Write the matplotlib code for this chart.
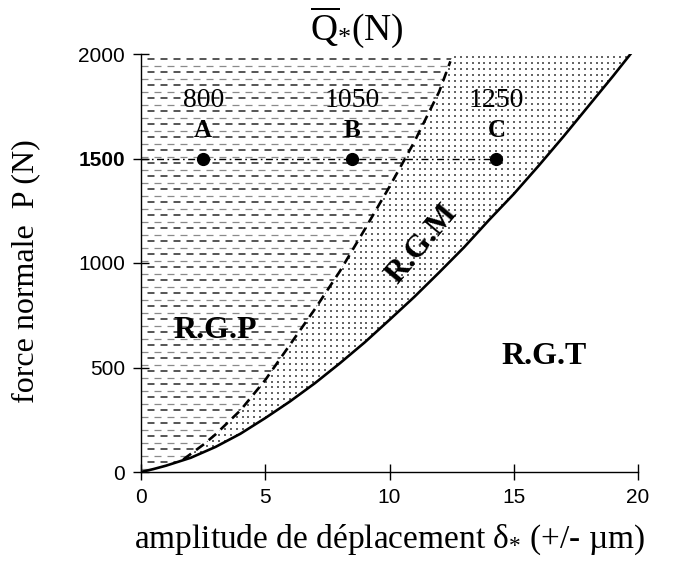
import numpy as np
import matplotlib
matplotlib.use('Agg')
import matplotlib.pyplot as plt
from matplotlib.patches import Polygon

# ---------------- data ----------------
solid_x = [0, 0.5, 1, 2, 3, 4, 5, 6, 7, 8, 9, 10, 11, 12, 13, 14, 15, 16, 17, 18, 19, 19.7]
solid_p = [0, 14, 30, 68, 120, 183, 258, 338, 425, 520, 620, 728, 838, 955, 1075, 1205, 1330,
           1465, 1605, 1750, 1895, 2000]
dash_x = [1.7, 2.5, 3.0, 4.0, 5.0, 6.0, 7.0, 8.0, 9.0, 10.0, 11.0, 12.0, 12.45]
dash_p = [60, 130, 180, 295, 440, 610, 780, 960, 1160, 1365, 1580, 1820, 1965]
point_labels = ['A', 'B', 'C']
point_x = [2.5, 8.5, 14.3]
point_p = [1500, 1500, 1500]
q_labels = ['800', '1050', '1250']
region_labels = ['R.G.P', 'R.G.M', 'R.G.T']
region_x = [3.0, 11.3, 16.2]
region_p = [675, 1090, 555]
region_rot = [0, 50, 0]
xticks = [0, 5, 10, 15, 20]
yticks = [0, 500, 1000, 1500, 2000]
x_max = 20
p_max = 2000

plt.rcParams['lines.scale_dashes'] = False
plt.rcParams['mathtext.fontset'] = 'custom'
plt.rcParams['mathtext.rm'] = 'Liberation Serif'
plt.rcParams['mathtext.it'] = 'Liberation Serif:italic'
plt.rcParams['mathtext.bf'] = 'Liberation Serif:bold'

W, H = 674, 564
fig = plt.figure(figsize=(W / 100, H / 100), dpi=100)
L, R, B, T = 141, 638, 472, 54
ax = fig.add_axes([L / W, 1 - B / H, (R - L) / W, (B - T) / H])
ax.set_xlim(0, x_max)
ax.set_ylim(0, p_max)

ppx = (R - L) / x_max
ppy = (B - T) / p_max

# ---------------- region polygons ----------------
x_top = dash_x[-1] + (p_max - dash_p[-1]) * (dash_x[-1] - dash_x[-2]) / (dash_p[-1] - dash_p[-2])
low_solid = [(sx, sp) for sx, sp in zip(solid_x, solid_p) if sx < dash_x[0]]
high_solid = [(sx, sp) for sx, sp in zip(solid_x, solid_p) if sx > dash_x[0]]
rgp = [(0, p_max), (x_top, p_max)] + list(zip(dash_x[::-1], dash_p[::-1])) + low_solid[::-1]
rgm = list(zip(dash_x, dash_p)) + [(x_top, p_max)] + high_solid[::-1]

rgp_patch = Polygon(rgp, closed=True, facecolor='none', edgecolor='none', transform=ax.transData)
rgm_patch = Polygon(rgm, closed=True, facecolor='none', edgecolor='none', transform=ax.transData)
ax.add_patch(rgp_patch)
ax.add_patch(rgm_patch)

# horizontal dashed hatch (RGP)
dy = 6.5 / ppy
levels = np.arange(dy * 0.5, p_max, dy)
dark = levels[1::2]
light = levels[0::2]
pt = 72 / 100
lc1 = ax.hlines(light, 0, x_max, colors='#8a8a8a', linewidth=0.9,
                linestyles=[(0, (7 * pt, 6 * pt))], zorder=1)
lc2 = ax.hlines(dark, 0, x_max, colors='#555555', linewidth=1.4,
                linestyles=[(6.5 * pt, (7 * pt, 6 * pt))], zorder=1)
lc1.set_clip_path(rgp_patch)
lc2.set_clip_path(rgp_patch)

# dotted fill (RGM)
gx = np.arange(0.05, x_max, 5.9 / ppx)
gy = np.arange(dy * 0.3, p_max, 5.9 / ppy)
GX, GY = np.meshgrid(gx, gy)
sc = ax.scatter(GX.ravel(), GY.ravel(), s=2.3, marker='s', color='#666666',
                linewidths=0, zorder=1)
sc.set_clip_path(rgm_patch)

# ---------------- boundary curves ----------------
ax.plot(solid_x, solid_p, color='black', lw=1.9, zorder=3, solid_joinstyle='round')
ax.plot(dash_x, dash_p, color='black', lw=1.9, ls=(0, (7, 4.5)), zorder=3)

# ---------------- constant P line & points ----------------
ax.plot([0, point_x[-1]], [point_p[0], point_p[-1]], color='black', lw=1.0,
        ls=(0, (5, 2.5, 1.2, 2.5)), zorder=3)
ax.plot(point_x, point_p, 'o', color='black', ms=8.5, zorder=4)

serif = 'Liberation Serif'
for x, p, lab, q in zip(point_x, point_p, point_labels, q_labels):
    ax.annotate(lab, (x, p), xytext=(0, 20), textcoords='offset points',
                ha='center', va='center', fontsize=18, fontweight='bold',
                family=serif, zorder=5)
    ax.annotate(q, (x, p), xytext=(0, 42), textcoords='offset points',
                ha='center', va='center', fontsize=20, family=serif, zorder=5)

for lab, x, p, rot in zip(region_labels, region_x, region_p, region_rot):
    ax.text(x, p, lab, ha='center', va='center', fontsize=23, fontweight='bold',
            family=serif, rotation=rot, rotation_mode='anchor', zorder=5)

# ---------------- axes styling ----------------
for s in ['top', 'right']:
    ax.spines[s].set_visible(False)
for s in ['left', 'bottom']:
    ax.spines[s].set_linewidth(1.0)
ax.set_xticks(xticks, labels=[str(v) for v in xticks])
ax.set_yticks(yticks, labels=[str(v) for v in yticks])
ax.tick_params(direction='inout', length=11, width=1.0, labelsize=15, pad=6)
for lbl in ax.get_xticklabels() + ax.get_yticklabels():
    lbl.set_family('Liberation Sans')
for lbl in ax.get_yticklabels():
    if lbl.get_text() == '1500':
        lbl.set_fontweight('bold')

fig.text(389 / W, 1 - 540 / H, r'amplitude de déplacement $\mathrm{δ}_{*}$ (+/- µm)',
         ha='center', va='center', fontsize=24, family=serif)
fig.text(26 / W, 1 - 271 / H, 'force normale  P (N)', ha='center', va='center',
         rotation=90, fontsize=23, family=serif)
fig.text(357 / W, 1 - 27 / H, r'$\overline{\mathrm{Q}}_{*}$(N)', ha='center', va='center',
         fontsize=27, family=serif)

fig.savefig('out.png', dpi=100)
